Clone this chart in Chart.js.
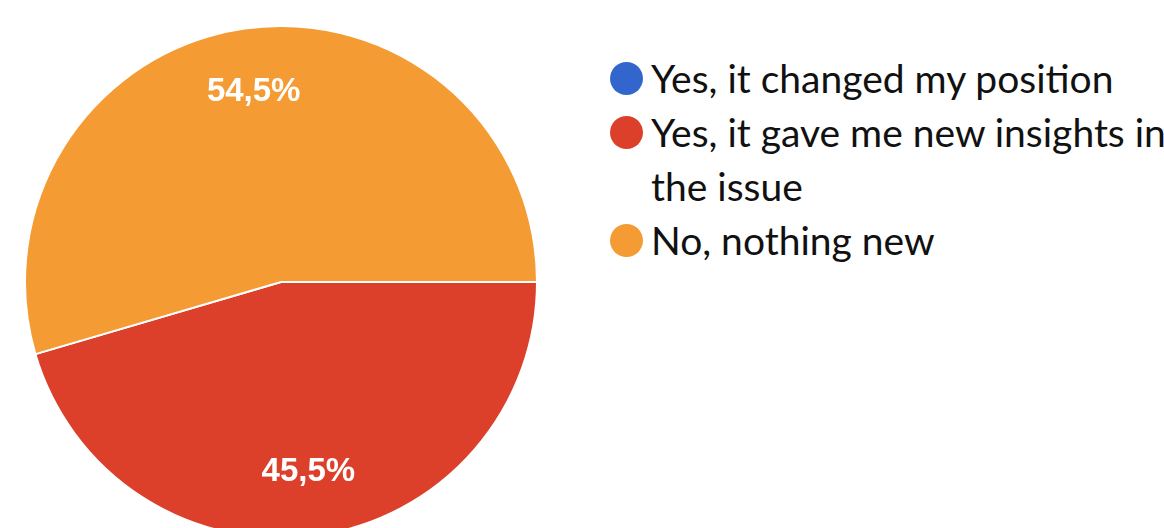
<!DOCTYPE html>
<html>
<head>
<meta charset="utf-8">
<script src="https://cdn.jsdelivr.net/npm/chart.js@4.4.1/dist/chart.umd.min.js"></script>
<style>
    html, body { margin: 0; padding: 0; background: #fff; overflow: hidden; width: 1164px; height: 528px; }
    #pieBox { position: absolute; left: 24px; top: 25px; width: 514px; height: 514px; }
    #legend { position: absolute; left: 610px; top: 51px; font-family: "Lato", sans-serif; font-size: 39px; color: #111; }
    .item { display: flex; align-items: flex-start; line-height: 54px; white-space: nowrap; }
    .dot { width: 33px; height: 33px; border-radius: 50%; margin: 11px 8px 0 0; flex: none; }
</style>
</head>
<body>
<div id="pieBox"><canvas id="pieChart"></canvas></div>
<div id="legend"></div>
<script>
    const answers = ["Yes, it changed my position", "Yes, it gave me new insights in the issue", "No, nothing new"];
    const legendLines = [["Yes, it changed my position"], ["Yes, it gave me new insights in", "the issue"], ["No, nothing new"]];
    const responses = [0, 5, 6];
    const sliceColors = ["#3366cc", "#dc402b", "#f49b34"];

    // legend on the right
    const legendBox = document.getElementById("legend");
    legendLines.forEach(function (lines, i) {
        const row = document.createElement("div");
        row.className = "item";
        const dot = document.createElement("span");
        dot.className = "dot";
        dot.style.background = sliceColors[i];
        const txt = document.createElement("span");
        txt.innerHTML = lines.join("<br>");
        row.appendChild(dot);
        row.appendChild(txt);
        legendBox.appendChild(row);
    });

    // percentage labels inside the slices
    const sliceLabels = {
        id: "sliceLabels",
        afterDatasetsDraw(chart) {
            const ctx = chart.ctx;
            const values = chart.data.datasets[0].data;
            const total = values.reduce((a, b) => a + b, 0);
            chart.getDatasetMeta(0).data.forEach(function (arc, i) {
                if (!values[i]) return;
                const p = arc.getProps(["x", "y", "startAngle", "endAngle", "outerRadius"], true);
                const mid = (p.startAngle + p.endAngle) / 2;
                const r = p.outerRadius * 0.75;
                const pct = (values[i] / total * 100).toFixed(1).replace(".", ",") + "%";
                ctx.save();
                ctx.fillStyle = "#fff";
                ctx.font = 'bold 33px "Liberation Sans", Arial, sans-serif';
                ctx.textAlign = "center";
                ctx.textBaseline = "middle";
                ctx.fillText(pct, p.x + Math.cos(mid) * r, p.y + Math.sin(mid) * r);
                ctx.restore();
            });
        }
    };

    new Chart(document.getElementById("pieChart"), {
        type: "pie",
        data: {
            labels: answers,
            datasets: [{
                data: responses,
                backgroundColor: sliceColors,
                borderColor: "#fff",
                borderWidth: 2
            }]
        },
        options: {
            responsive: true,
            maintainAspectRatio: false,
            animation: false,
            rotation: 90,
            layout: { padding: 0 },
            plugins: {
                legend: { display: false },
                tooltip: { enabled: false }
            }
        },
        plugins: [sliceLabels]
    });
</script>
</body>
</html>
